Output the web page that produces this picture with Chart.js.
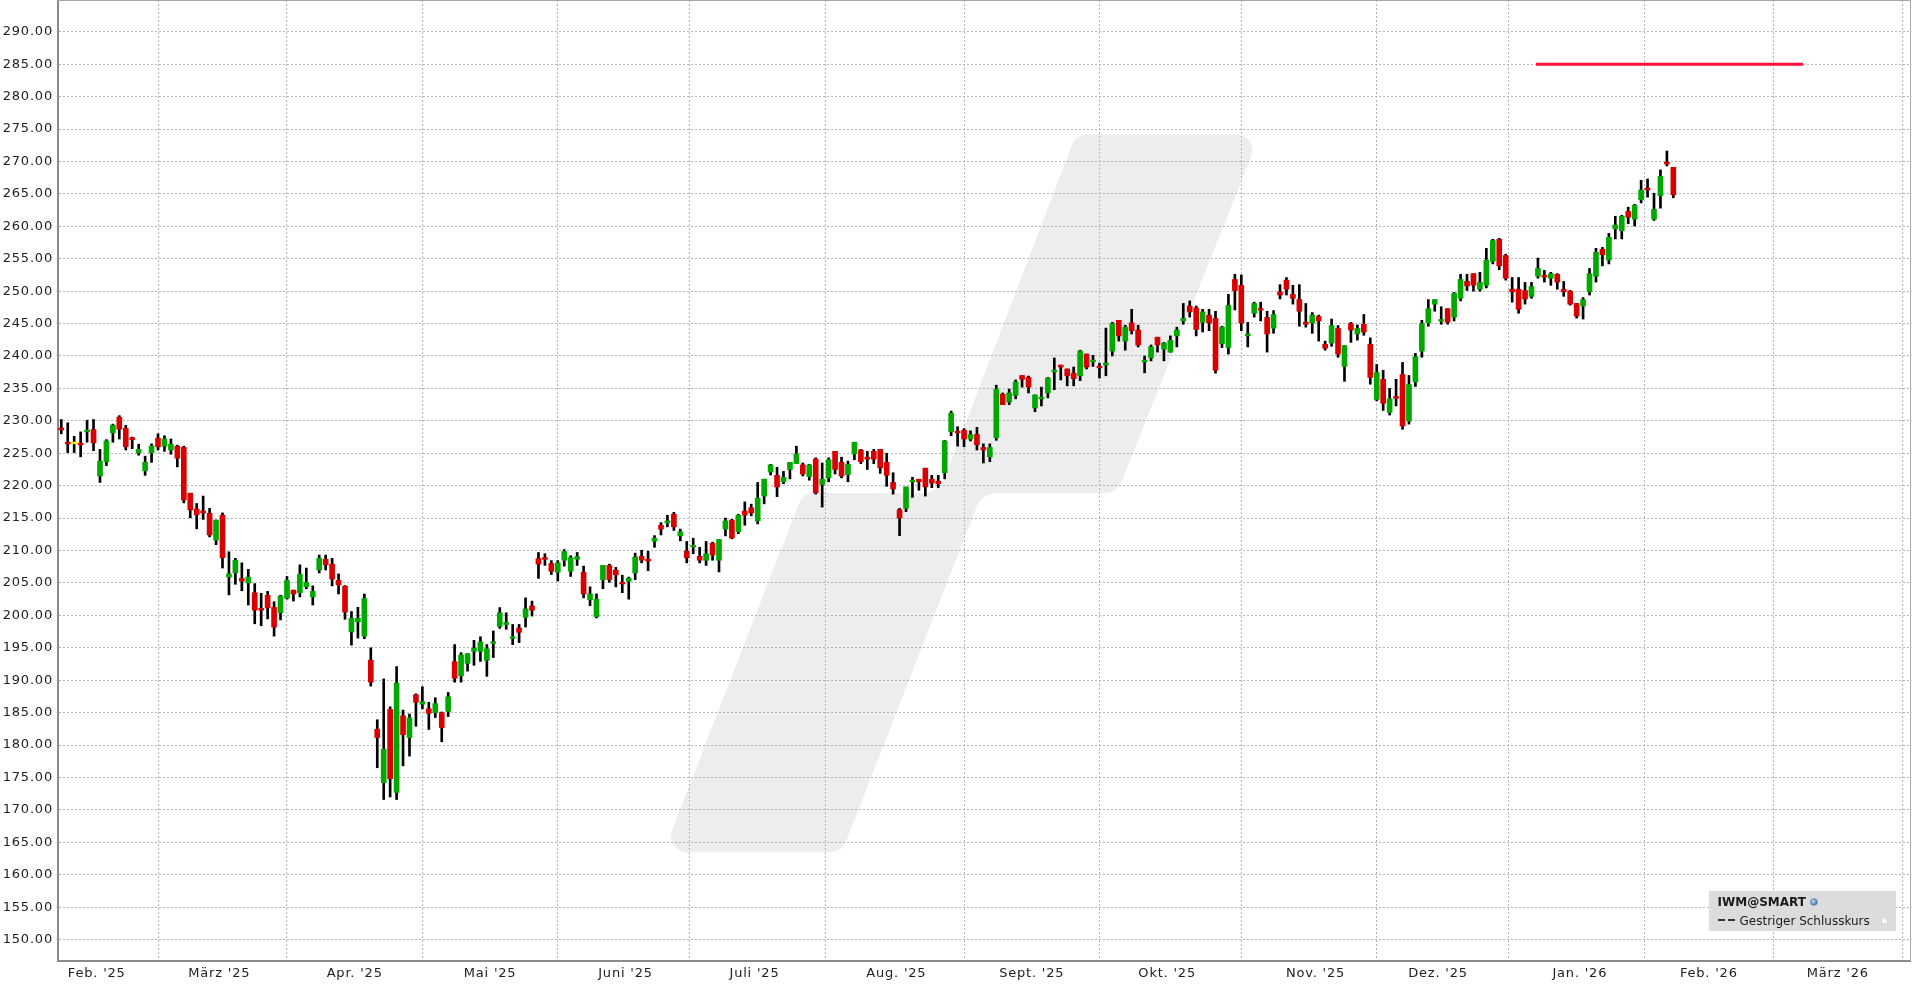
<!DOCTYPE html>
<html><head><meta charset="utf-8">
<script src="https://cdn.jsdelivr.net/npm/chart.js@4/dist/chart.umd.min.js"></script>
<style>html,body{margin:0;padding:0;background:#fff;overflow:hidden}#wrap{width:1916px;height:989px;position:relative}</style>
</head><body><div id="wrap"><canvas id="c" width="1916" height="989"></canvas></div>
<script>
// IWM daily OHLC, one entry per trading day from 24 Jan 2025 to 23 Jan 2026
const openP = [
228.9,226.7,226.6,226.55,228.3,228.66,221.5,223.7,228.15,230.57,
228.87,227.4,225.06,222.3,225.06,227.3,226.1,225.5,226.1,225.9,
218.84,216.4,216.1,215.76,211.6,215.45,205.9,206.55,205.7,205.0,
203.5,201.1,203.1,201.25,200.4,202.65,203.9,203.5,204.4,202.85,
207.0,208.66,207.9,205.4,204.5,197.45,199.0,196.8,193.1,182.45,
174.2,185.5,172.7,184.5,181.16,187.75,186.3,185.6,185.0,185.0,
185.2,192.85,190.7,192.6,194.45,194.45,193.06,195.7,198.3,198.6,
196.45,198.05,199.7,201.45,208.76,208.9,208.0,206.65,208.5,206.8,
208.66,206.65,202.4,199.8,205.5,207.7,207.0,205.1,205.27,206.55,
209.1,208.66,211.45,213.9,214.26,215.6,212.26,209.9,210.57,209.1,
208.5,211.1,208.5,213.3,214.7,212.9,216.07,216.6,214.57,218.4,
222.1,221.6,220.6,222.5,223.4,223.2,221.4,224.1,220.2,221.2,
225.3,223.6,221.7,224.9,225.5,224.4,225.3,225.6,223.6,220.5,
216.3,216.5,220.6,221.0,222.7,221.0,220.7,222.0,228.3,228.4,
228.56,227.2,227.9,225.9,224.45,227.4,234.1,232.9,233.9,237.0,
236.7,232.0,233.4,234.3,237.55,238.6,238.0,237.35,236.95,240.3,
239.1,238.4,238.6,240.75,245.5,242.3,245.1,244.0,239.1,239.7,
242.9,241.05,240.6,243.1,245.4,247.7,247.4,245.2,246.3,245.8,
241.9,241.3,251.8,250.9,243.1,246.6,247.3,245.95,244.3,249.9,
251.7,249.5,248.7,245.2,245.1,246.1,241.8,242.0,244.25,238.4,
245.0,243.4,244.9,241.8,233.3,236.4,231.3,233.75,237.15,229.95,
236.0,240.75,245.1,248.0,245.4,247.3,246.0,248.9,251.5,252.7,
250.3,250.9,254.6,258.0,255.5,250.3,250.3,250.1,249.2,252.3,
252.4,252.0,252.6,250.3,250.0,248.1,247.7,249.9,252.3,256.45,
254.8,259.6,259.3,262.3,261.1,264.1,265.9,261.1,264.7,269.9,
269.1];
const highP = [
230.2,229.7,227.6,228.3,230.1,230.2,225.6,227.1,229.5,230.8,
229.3,227.5,226.4,224.55,226.45,228.0,227.7,227.2,226.25,226.1,
218.84,217.25,218.4,216.5,214.7,215.8,209.8,208.8,208.1,207.1,
204.9,203.4,203.7,202.1,203.1,206.0,203.9,207.8,207.3,204.55,
209.3,209.3,208.8,206.4,204.6,200.6,201.25,203.3,195.0,183.9,
190.2,185.9,192.1,185.4,184.8,187.9,189.0,186.6,187.3,185.1,
188.1,195.5,194.25,194.1,196.15,196.7,195.5,197.6,201.2,200.4,
198.6,198.6,202.7,202.2,209.7,209.5,208.45,208.45,210.15,209.2,
209.7,207.6,204.4,203.3,207.7,207.9,207.4,206.2,205.9,209.6,
210.05,209.9,212.3,214.3,215.45,215.9,213.3,211.4,211.9,210.5,
211.4,211.3,211.7,215.0,214.8,215.6,217.5,217.15,220.5,221.0,
223.3,222.85,222.2,223.6,226.1,223.5,223.3,224.3,223.5,224.3,
225.3,224.4,223.8,226.7,225.6,225.3,225.6,225.6,225.0,222.0,
216.5,219.8,221.3,221.0,222.7,221.6,221.6,227.0,231.5,229.1,
228.8,228.45,229.0,226.45,226.45,235.5,234.3,234.9,236.3,237.0,
236.9,234.0,235.2,236.7,239.7,238.6,238.0,238.3,240.9,240.3,
240.1,238.9,244.3,245.2,245.5,244.75,247.2,244.75,240.0,241.7,
242.9,242.1,243.1,244.45,248.1,248.5,247.7,247.2,247.2,246.9,
244.6,249.5,252.6,252.5,245.2,248.3,248.3,246.9,247.0,251.0,
252.1,250.9,251.0,248.1,246.7,246.3,242.3,245.7,244.7,241.6,
245.2,244.8,246.4,242.8,238.7,237.8,235.0,236.4,239.0,237.0,
240.4,245.5,248.7,248.7,247.6,247.3,249.8,252.6,252.6,252.7,
252.9,256.6,258.0,258.15,255.7,252.1,252.1,251.35,251.35,255.1,
253.2,252.9,252.7,251.5,250.1,248.1,249.0,253.5,256.6,256.75,
258.9,261.55,261.7,262.95,263.4,267.1,267.3,265.1,268.7,271.6,
269.1];
const lowP = [
228.0,225.1,225.1,224.45,226.7,225.4,220.5,223.1,226.7,227.2,
225.5,225.7,224.7,221.6,223.6,225.5,225.3,224.86,222.9,217.35,
215.04,213.34,214.8,212.1,210.9,207.3,203.16,204.8,203.8,201.6,
198.7,198.4,199.46,196.8,199.3,202.5,202.2,202.85,204.1,201.6,
206.55,207.0,204.55,203.3,199.4,195.4,196.5,196.4,189.1,176.5,
171.6,172.0,171.6,176.8,178.3,182.9,185.6,182.4,184.25,180.5,
184.4,189.7,189.7,191.4,192.3,192.9,190.6,193.5,198.0,197.85,
195.5,195.8,198.2,199.9,205.7,207.7,206.3,205.3,207.6,206.0,
207.7,202.7,201.5,199.6,204.1,205.1,204.4,203.5,202.5,205.5,
208.1,206.9,210.5,212.4,213.65,213.1,211.5,208.1,209.5,208.1,
207.7,208.5,206.7,212.26,211.8,212.6,213.9,215.35,214.1,217.2,
221.65,218.3,220.3,221.05,223.4,221.5,220.85,218.7,216.7,220.6,
221.8,221.2,220.6,224.0,223.4,222.5,223.4,221.9,219.9,218.7,
212.3,216.0,218.2,219.3,218.4,219.7,219.7,221.05,227.7,226.1,
226.0,226.9,225.5,223.5,223.7,227.0,232.5,232.5,233.4,235.2,
234.3,231.4,232.3,233.55,234.8,236.3,235.4,235.4,236.2,238.0,
238.4,236.6,236.95,240.0,242.3,240.9,243.4,241.4,237.4,239.25,
240.6,239.25,240.6,241.4,244.9,246.0,243.1,243.7,243.9,237.35,
241.3,240.3,247.1,243.9,241.4,246.0,245.4,240.6,243.5,248.8,
249.4,248.0,244.6,244.45,243.5,242.3,240.9,241.5,239.8,236.1,
242.1,242.45,243.2,235.65,233.1,231.6,230.9,232.3,228.7,229.5,
235.3,239.8,244.6,246.9,244.9,244.9,245.4,248.5,250.1,250.0,
250.0,250.5,254.2,253.3,251.7,248.3,246.6,248.0,248.9,252.0,
251.4,250.9,250.3,249.2,247.85,245.85,245.7,249.4,251.4,253.9,
254.2,258.05,258.05,260.4,260.05,263.6,264.5,260.9,262.8,269.3,
264.4];
const closeP = [
228.6,226.45,226.6,226.3,228.56,226.6,223.8,226.9,229.33,228.7,
226.0,227.1,225.6,223.6,226.1,226.0,227.2,226.4,224.24,217.8,
216.27,215.5,215.8,212.4,214.7,208.9,206.4,208.5,205.3,205.9,
200.8,200.8,201.16,198.2,202.96,205.4,203.3,206.35,205.1,203.7,
208.8,207.8,205.6,204.7,200.5,199.56,199.56,202.6,189.7,181.16,
179.36,174.8,189.56,181.6,184.2,186.6,186.7,184.9,186.4,182.7,
187.45,190.3,193.9,194.1,194.9,195.9,194.86,195.9,200.4,198.9,
196.7,197.4,201.0,200.8,207.9,208.66,206.8,208.1,209.85,208.9,
209.07,203.3,203.3,202.5,207.7,205.5,206.25,204.86,205.73,209.0,
208.5,208.4,211.9,213.3,214.57,213.65,212.9,208.87,210.8,208.5,
209.5,209.3,211.7,214.57,211.95,215.45,215.45,215.8,218.07,221.0,
223.2,219.8,221.3,223.6,224.9,221.8,223.2,218.9,221.0,224.0,
222.5,221.5,223.3,226.7,223.7,224.1,224.1,222.75,221.6,219.5,
215.0,219.8,220.85,220.6,219.8,220.4,220.3,226.9,231.2,228.15,
227.2,227.9,226.3,225.5,225.9,234.9,232.5,234.3,236.0,236.4,
235.2,234.0,233.65,236.6,237.8,238.3,236.95,236.5,240.75,238.3,
239.35,238.2,238.9,245.0,243.1,244.45,243.9,241.7,239.35,241.4,
241.7,242.0,242.4,244.0,245.8,246.8,244.1,246.8,245.1,237.8,
244.45,247.8,250.1,245.1,243.4,248.1,247.1,243.4,246.4,249.4,
250.3,248.9,246.9,244.9,246.3,245.4,241.2,244.7,240.3,241.6,
244.0,244.25,243.7,236.7,237.45,232.7,233.4,233.5,229.2,235.6,
239.9,245.0,247.3,248.7,245.6,245.2,249.65,251.8,250.8,250.9,
251.35,254.75,257.8,253.9,252.0,249.9,247.2,248.8,250.7,253.5,
252.2,252.7,251.4,249.9,248.0,246.15,248.7,252.7,256.0,255.6,
258.3,260.2,261.55,261.4,263.25,265.6,265.6,262.6,267.7,269.6,
264.85];

// x axis: month labels and the trading-day slot where each month starts
const monthLabels = ["Feb. '25","März '25","Apr. '25","Mai '25","Juni '25","Juli '25","Aug. '25","Sept. '25","Okt. '25","Nov. '25","Dez. '25","Jan. '26","Feb. '26","März '26"];
const monthStartSlot = [6,25,46,67,88,108,130,151,172,195,214,236,256,276];
const yTickValues = [150,155,160,165,170,175,180,185,190,195,200,205,210,215,220,225,230,235,240,245,250,255,260,265,270,275,280,285,290];
// red horizontal level line
const levelValue = 285;
const levelFromSlot = 228.7;
const levelToSlot = 270.1;
const legendTitle = "IWM@SMART";
const legendItem = "Gestriger Schlusskurs";

const idx = openP.map((_, i) => i);
const wickData = idx.map(i => ({x: i, y: [lowP[i], highP[i]]}));
const bodyData = idx.map(i => {
  let lo = Math.min(openP[i], closeP[i]), hi = Math.max(openP[i], closeP[i]);
  if (hi - lo < 0.27) { const m = (hi + lo) / 2; lo = m - 0.135; hi = m + 0.135; }
  return {x: i, y: [lo, hi]};
});
const bodyColors = idx.map(i => closeP[i] > openP[i] ? '#00a800' : (closeP[i] < openP[i] ? '#d80000' : '#ffee00'));

const FONT = "'DejaVu Sans', Verdana, sans-serif";

const watermark = {
  id: 'watermark',
  beforeDraw(chart) {
    const ctx = chart.ctx;
    ctx.letterSpacing = '0.8px';
    const pts = [[1076,134.5],[1260,134.5],[1117,493],[982,493],[842,852],[663.5,852],[803,493],[939,493]];
    const radii = [16,16,16,22,16,16,16,22];
    ctx.save();
    ctx.letterSpacing = '0px';
    ctx.fillStyle = '#ededed';
    ctx.beginPath();
    const n = pts.length;
    const mid = (a, b) => [(a[0]+b[0])/2, (a[1]+b[1])/2];
    const start = mid(pts[n-1], pts[0]);
    ctx.moveTo(start[0], start[1]);
    for (let k = 0; k < n; k++) {
      const p = pts[k], q = pts[(k+1)%n];
      ctx.arcTo(p[0], p[1], q[0], q[1], radii[k]);
    }
    ctx.closePath();
    ctx.fill();
    ctx.restore();
  },
  afterDraw(chart) {
    const ctx = chart.ctx;
    const a = chart.chartArea;
    ctx.save();
    ctx.letterSpacing = '0px';
    ctx.strokeStyle = '#a8a8a8';
    ctx.lineWidth = 1;
    ctx.beginPath();
    ctx.moveTo(a.left, a.top + 0.5); ctx.lineTo(a.right + 0.5, a.top + 0.5); ctx.lineTo(a.right + 0.5, a.bottom);
    ctx.stroke();
    // legend box
    ctx.fillStyle = '#dcdcdc';
    ctx.fillRect(1709, 891, 187, 40);
    ctx.fillStyle = '#1a1a1a';
    ctx.textBaseline = 'alphabetic';
    ctx.textAlign = 'left';
    ctx.font = "bold 12px " + FONT;
    ctx.fillText(legendTitle, 1717.5, 906);
    const tw = ctx.measureText(legendTitle).width;
    const gx = 1717.5 + tw + 8, gy = 902;
    const grad = ctx.createRadialGradient(gx - 1, gy - 1, 0.5, gx, gy, 4);
    grad.addColorStop(0, '#bcd4f0'); grad.addColorStop(1, '#2e5f9a');
    ctx.fillStyle = grad;
    ctx.beginPath(); ctx.arc(gx, gy, 3.6, 0, Math.PI * 2); ctx.fill();
    ctx.fillStyle = '#333';
    ctx.fillRect(1718, 919, 7, 2);
    ctx.fillRect(1728, 919, 7, 2);
    ctx.fillStyle = '#1a1a1a';
    ctx.font = "12px " + FONT;
    ctx.fillText(legendItem, 1739.5, 924.5);
    ctx.fillStyle = '#f7f7fb';
    ctx.fillRect(1881, 917.5, 6.5, 6.5);
    ctx.strokeStyle = '#cfcfd8';
    ctx.strokeRect(1881.5, 918, 6, 6);
    ctx.restore();
  }
};

new Chart(document.getElementById('c'), {
  type: 'bar',
  data: {
    datasets: [
      {type: 'line', label: 'level', data: [{x: levelFromSlot, y: levelValue}, {x: levelToSlot, y: levelValue}],
       borderColor: '#ff1038', borderWidth: 3, pointRadius: 0, order: 0},
      {label: 'body', data: bodyData, backgroundColor: bodyColors, barThickness: 5, grouped: false, order: 1},
      {label: 'wick', data: wickData, backgroundColor: '#000', barThickness: 2, grouped: false, order: 2}
    ]
  },
  options: {
    responsive: false, animation: false, devicePixelRatio: 1,
    layout: {padding: {top: 0, right: 6, left: 0, bottom: 0}},
    plugins: {legend: {display: false}, tooltip: {enabled: false}},
    scales: {
      x: {
        type: 'linear', min: -0.51, max: 286.7, offset: false,
        afterBuildTicks: s => { s.ticks = monthStartSlot.map(v => ({value: v - 0.5})); },
        afterFit: s => { s.height = 28; s.paddingLeft = 0; s.paddingRight = 0; },
        grid: {color: '#b4b4b4', lineWidth: 1, drawTicks: false},
        border: {display: true, color: '#8a8a8a', width: 2, dash: [2, 2]},
        ticks: {autoSkip: false, maxRotation: 0, padding: 5, color: '#222',
                font: {family: FONT, size: 13},
                callback: (v, i) => monthLabels[i]}
      },
      y: {
        type: 'linear', min: 146.7, max: 294.9,
        afterBuildTicks: s => { s.ticks = yTickValues.map(v => ({value: v})); },
        afterFit: s => { s.width = 58; s.paddingTop = 0; s.paddingBottom = 0; },
        grid: {color: '#b4b4b4', lineWidth: 1, drawTicks: false},
        border: {display: true, color: '#8a8a8a', width: 2, dash: [2, 2]},
        ticks: {padding: 5, color: '#222', font: {family: FONT, size: 13},
                callback: v => Number(v).toFixed(2)}
      }
    }
  },
  plugins: [watermark]
});
</script>
</body></html>
